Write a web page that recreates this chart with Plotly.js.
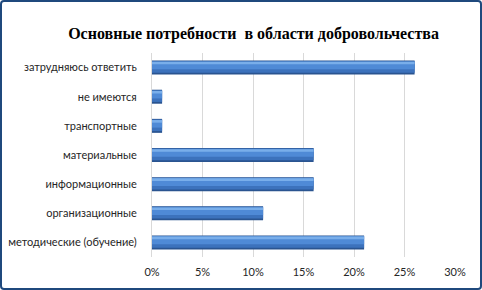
<!DOCTYPE html>
<html>
<head>
<meta charset="utf-8">
<script src="https://cdn.plot.ly/plotly-3.0.1.min.js"></script>
<style>
html,body{margin:0;padding:0;background:#fff;}
#wrap{position:relative;width:482px;height:290px;}
#chart{width:482px;height:290px;}
#frame{position:absolute;left:0;top:0;width:482px;height:290px;box-sizing:border-box;border:2px solid #1F497D;border-radius:4px;pointer-events:none;}
</style>
</head>
<body>
<div id="wrap"><div id="chart"></div><div id="frame"></div></div>
<script>
const categories = ["затрудняюсь ответить", "не имеются", "транспортные", "материальные", "информационные", "организационные", "методические (обучение)"];
const values = [26, 1, 1, 16, 16, 11, 21];
const tickVals = [0, 5, 10, 15, 20, 25, 30];
const tickText = ["0%", "5%", "10%", "15%", "20%", "25%", "30%"];
const chartTitle = "Основные потребности  в области добровольчества";

const layers = [
  {color: "#2A5490", width: 0.48, offset: -0.24},
  {color: "#3C72BC", width: 0.40, offset: -0.22},
  {color: "#4F8AD6", width: 0.26, offset: -0.20},
  {color: "#79AEEA", width: 0.09, offset: -0.20}
];
const traces = layers.map(l => ({
  type: "bar",
  orientation: "h",
  y: categories,
  x: values,
  width: l.width,
  offset: l.offset,
  marker: {color: l.color, line: {width: 0}},
  hoverinfo: "none",
  showlegend: false
}));

const layout = {
  width: 482, height: 290,
  margin: {l: 152, r: 27, t: 53, b: 33},
  paper_bgcolor: "#ffffff",
  plot_bgcolor: "#ffffff",
  barmode: "overlay",
  title: {
    text: "<b>" + chartTitle + "</b>",
    font: {family: "Liberation Serif, Times New Roman, serif", size: 16, color: "#000"},
    x: 0.526, xanchor: "center", xref: "container",
    y: 0.886, yanchor: "middle", yref: "container"
  },
  xaxis: {
    range: [0, 30],
    tickvals: tickVals,
    ticktext: tickText,
    showgrid: true,
    gridcolor: "#D9D9D9",
    gridwidth: 1,
    zeroline: false,
    showline: false,
    ticks: "",
    ticklabelstandoff: 7,
    tickfont: {family: "Lato, Open Sans, sans-serif", size: 11, color: "#262626"},
    fixedrange: true
  },
  yaxis: {
    type: "category",
    autorange: "reversed",
    showgrid: false,
    zeroline: false,
    showline: true,
    linecolor: "#D9D9D9",
    linewidth: 1,
    ticks: "",
    ticklabelstandoff: 12,
    tickfont: {family: "Lato, Open Sans, sans-serif", size: 11, color: "#262626"},
    fixedrange: true
  }
};

Plotly.newPlot("chart", traces, layout, {displayModeBar: false, staticPlot: true});
</script>
</body>
</html>
